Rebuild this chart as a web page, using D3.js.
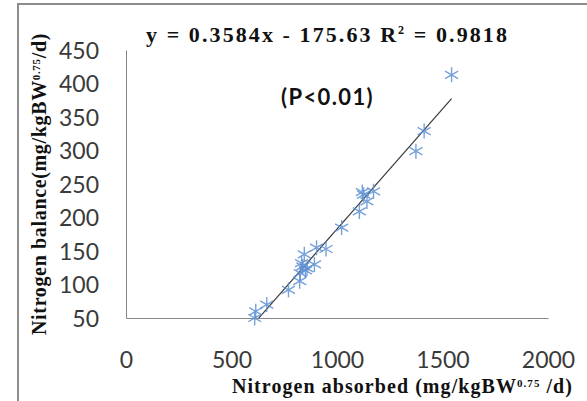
<!DOCTYPE html>
<html>
<head>
<meta charset="utf-8">
<script src="https://cdn.jsdelivr.net/npm/d3@7"></script>
<style>
  body { margin:0; background:#fff; }
  svg { display:block; }
</style>
</head>
<body>
<div id="chart"></div>
<script>
// data
var absorbed = [610, 615, 667, 770, 823, 826, 832, 838, 845, 850, 858, 893, 903, 948,
                1022, 1106, 1120, 1126, 1142, 1173, 1374, 1413, 1543];
var balance  = [50, 60, 70, 92, 105, 117, 132, 127, 145, 121, 124, 130, 155, 153,
                185, 209, 238, 234, 224, 239, 299, 329, 413];
var xTicks = [0, 500, 1000, 1500, 2000];
var yTicks = [50, 100, 150, 200, 250, 300, 350, 400, 450];
var slope = 0.3584, intercept = -175.63;

var W = 587, H = 401;
var svg = d3.select("#chart").append("svg")
    .attr("width", W).attr("height", H);

svg.append("rect").attr("width", W).attr("height", H).attr("fill", "#fff");

// chart frame (only top and left edges show)
svg.append("path")
    .attr("d", "M18,401 L18,4 L587,4")
    .attr("fill", "none").attr("stroke", "#8c8c8c").attr("stroke-width", 2);

var x = d3.scaleLinear().domain([0, 2000]).range([126, 548]);
var y = d3.scaleLinear().domain([50, 450]).range([318, 50]);

// stretch a text to the width seen in the picture
function fit(t, target){
  var n = t.text().length;
  var w = t.node().getComputedTextLength();
  t.style("letter-spacing", ((target - w) / n) + "px");
}

// axes
var xAxis = d3.axisBottom(x).tickValues(xTicks).tickFormat(d3.format("d")).tickSize(0).tickPadding(0);
var yAxis = d3.axisLeft(y).tickValues(yTicks).tickFormat(d3.format("d")).tickSize(0).tickPadding(0);

var gx = svg.append("g").attr("transform", "translate(0," + y(50) + ")").call(xAxis);
gx.select(".domain").attr("stroke", "#868686");
gx.selectAll("text")
    .attr("y", 50).attr("dy", 0)
    .style("font-family", "Lato, 'Open Sans', sans-serif")
    .style("font-size", "23px").attr("fill", "#3a3a3a");

var gy = svg.append("g").attr("transform", "translate(" + x(0) + ",0)").call(yAxis);
gy.select(".domain").attr("stroke", "#868686");
gy.selectAll("text")
    .attr("x", -27).attr("dy", "0.35em")
    .style("font-family", "Lato, 'Open Sans', sans-serif")
    .style("font-size", "23px").attr("fill", "#3a3a3a");

// trendline, clipped to the plot area
svg.append("clipPath").attr("id", "plotclip")
  .append("rect").attr("x", x(0)).attr("y", y(450)).attr("width", x(2000) - x(0)).attr("height", y(50) - y(450));

var xmin = d3.min(absorbed), xmax = d3.max(absorbed);
svg.append("line")
    .attr("clip-path", "url(#plotclip)")
    .attr("x1", x(xmin)).attr("y1", y(slope * xmin + intercept))
    .attr("x2", x(xmax)).attr("y2", y(slope * xmax + intercept))
    .attr("stroke", "#3a3a3a").attr("stroke-width", 1.2);

// asterisk markers
var r = 7.5;
var star = "M0," + (-r) + "V" + r +
           "M" + (-r * 0.87) + "," + (-r * 0.5) + "L" + (r * 0.87) + "," + (r * 0.5) +
           "M" + (-r * 0.87) + "," + (r * 0.5) + "L" + (r * 0.87) + "," + (-r * 0.5);
svg.selectAll(".pt")
    .data(absorbed)
    .enter().append("path")
    .attr("class", "pt")
    .attr("d", star)
    .attr("transform", function(d, i){ return "translate(" + x(d) + "," + y(balance[i]) + ")"; })
    .attr("fill", "none").attr("stroke", "#5f90d2").attr("stroke-width", 1.4)
    .attr("stroke-opacity", 0.85);

// equation
var eq = svg.append("text")
    .attr("x", 146).attr("y", 42)
    .style("font-family", "'Liberation Serif', 'Times New Roman', serif")
    .style("font-weight", "bold").style("font-size", "22px").attr("fill", "#111");
eq.append("tspan").text("y = 0.3584x - 175.63 R");
eq.append("tspan").attr("dy", -8).style("font-size", "12px").text("2");
eq.append("tspan").attr("dy", 8).text(" = 0.9818");
fit(eq, 363);

var pv = svg.append("text")
    .attr("x", 281).attr("y", 105)
    .style("font-family", "Lato, 'Open Sans', sans-serif")
    .style("font-weight", "bold").style("font-size", "22px").attr("fill", "#111")
    .text("(P<0.01)");
fit(pv, 93);

// axis titles
var xt = svg.append("text")
    .attr("x", 232).attr("y", 393)
    .style("font-family", "'Liberation Serif', 'Times New Roman', serif")
    .style("font-weight", "bold").style("font-size", "20px").attr("fill", "#111");
xt.append("tspan").text("Nitrogen absorbed (mg/kgBW");
xt.append("tspan").attr("dy", -6).style("font-size", "11px").text("0.75");
xt.append("tspan").attr("dy", 6).text(" /d)");
fit(xt, 341);

var yt = svg.append("text")
    .attr("transform", "translate(46,335) rotate(-90)")
    .style("font-family", "'Liberation Serif', 'Times New Roman', serif")
    .style("font-weight", "bold").style("font-size", "20px").attr("fill", "#111");
yt.append("tspan").text("Nitrogen balance(mg/kgBW");
yt.append("tspan").attr("dy", -6).style("font-size", "11px").text("0.75");
yt.append("tspan").attr("dy", 6).text("/d)");
fit(yt, 302);
</script>
</body>
</html>
